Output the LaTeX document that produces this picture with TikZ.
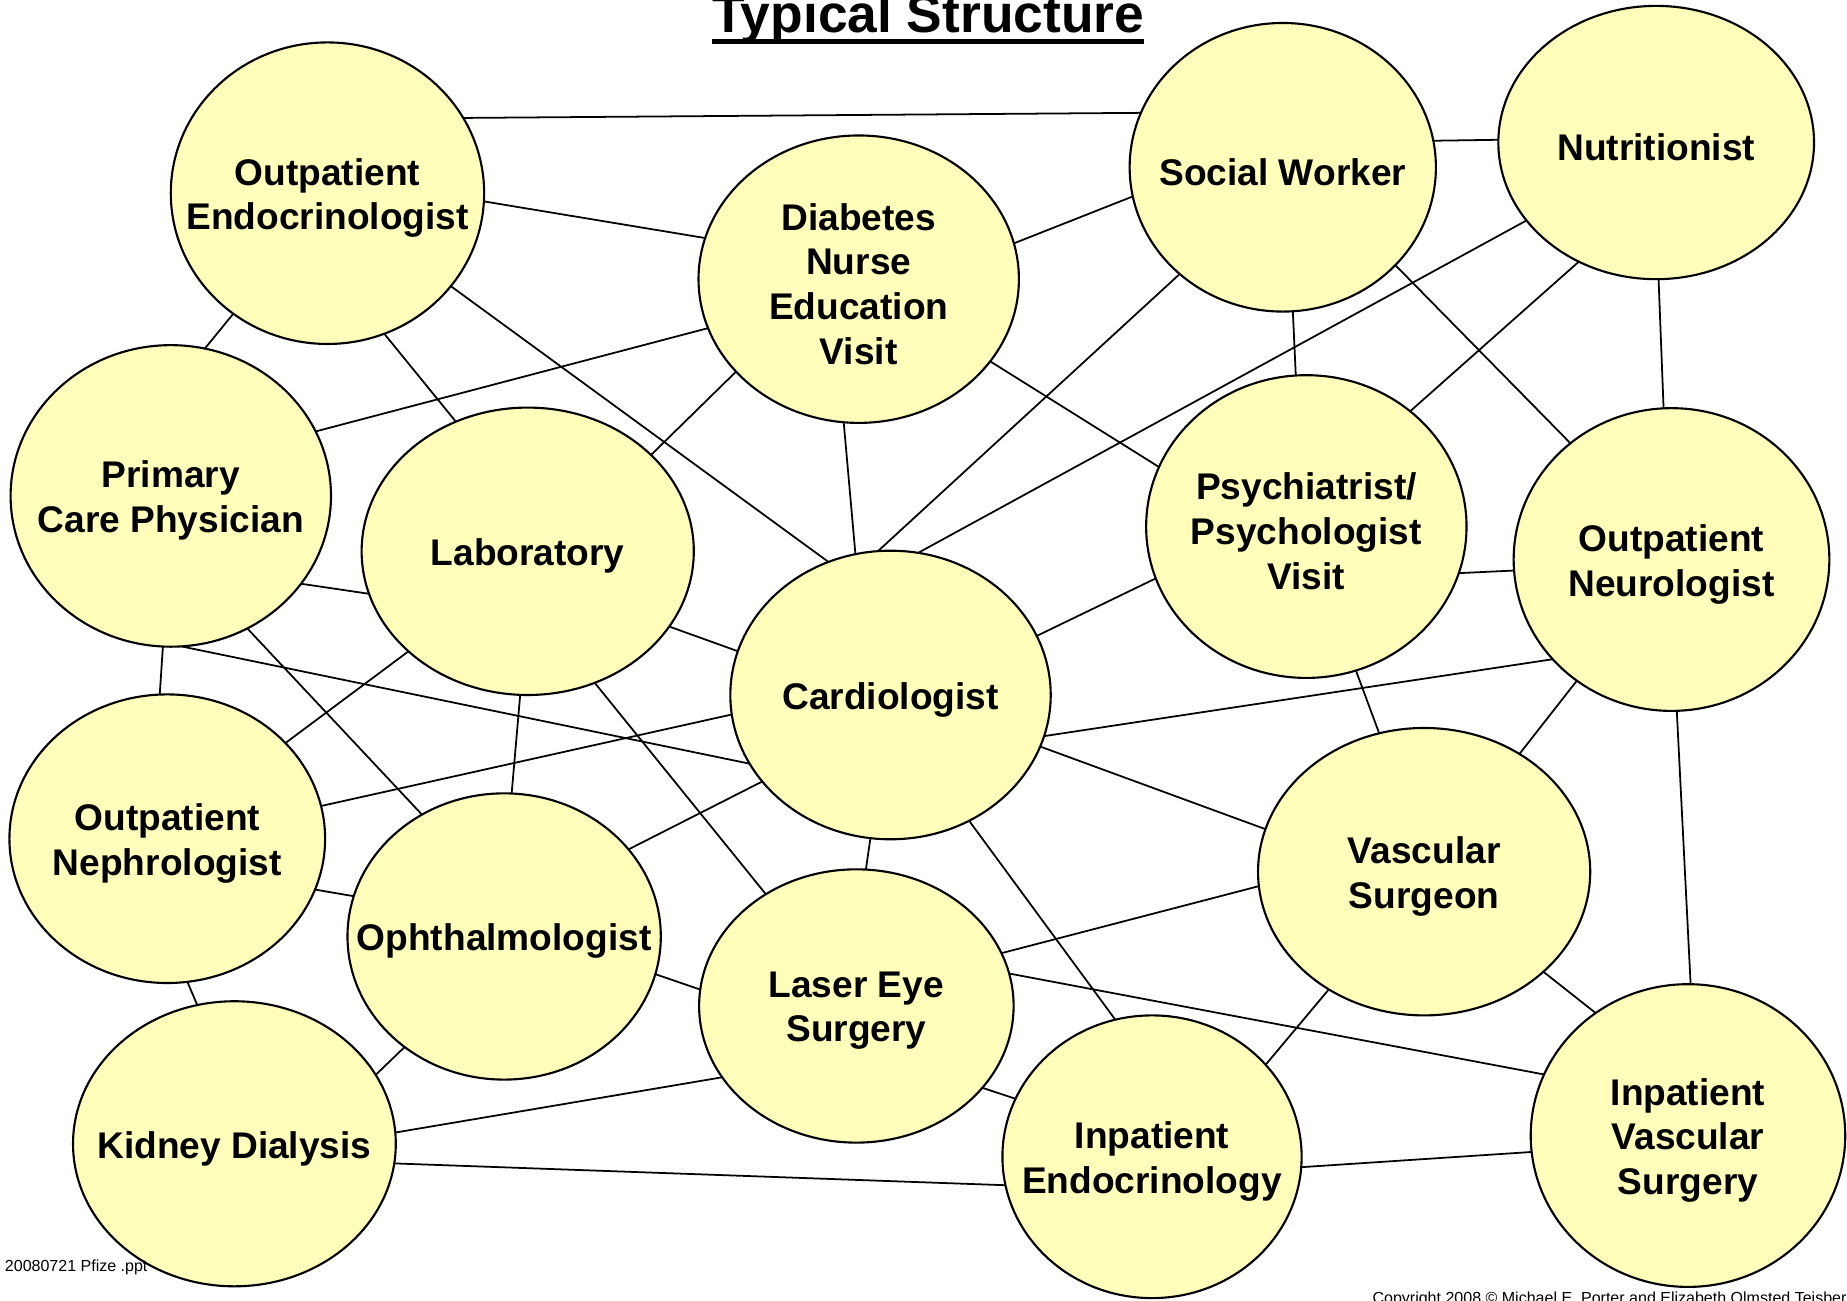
\documentclass[tikz,border=0pt]{standalone}
\usepackage{fontspec}
\setmainfont{Liberation Sans}
\usetikzlibrary{shapes.geometric}
\definecolor{paleyellow}{RGB}{255,255,187}
\tikzstyle{unit} = [ellipse,draw,line width=1.8pt,fill=paleyellow,inner sep=0,outer sep=0]
\tikzstyle{lbl} = [align=center,inner sep=0,yshift=-4pt,font=\fontsize{31.5}{38}\selectfont\bfseries]
\tikzstyle{link} = [draw,line width=1.5pt]

\begin{document}
\begin{tikzpicture}[x=1pt,y=-1pt,small/.style={anchor=base west,inner sep=0,font=\fontsize{13.6}{16}\selectfont}]
    \clip (0,0) rectangle (1568,1104);
    \useasboundingbox (0,0) rectangle (1568,1104);

    \node[anchor=base,inner sep=0,font=\fontsize{45.3}{54}\selectfont\bfseries] (title) at (788,28) {Typical Structure};
    \draw[line width=4.4pt] ([yshift=-7pt]title.base west) -- ([yshift=-7pt]title.base east);

    \node[unit,minimum width=266pt,minimum height=256pt] (endo) at (278,164) {};
    \node[unit,minimum width=272pt,minimum height=244pt] (nurse) at (729,237) {};
    \node[unit,minimum width=260pt,minimum height=245pt] (social) at (1089,142) {};
    \node[unit,minimum width=268pt,minimum height=232pt] (nutri) at (1406,121) {};
    \node[unit,minimum width=272pt,minimum height=256pt] (pcp) at (145,421) {};
    \node[unit,minimum width=282pt,minimum height=244pt] (lab) at (448,468) {};
    \node[unit,minimum width=272pt,minimum height=257pt] (psych) at (1109,447) {};
    \node[unit,minimum width=268pt,minimum height=257pt] (neuro) at (1419,475) {};
    \node[unit,minimum width=272pt,minimum height=245pt] (cardio) at (756,590) {};
    \node[unit,minimum width=268pt,minimum height=245pt] (neph) at (142,712) {};
    \node[unit,minimum width=266pt,minimum height=243pt] (oph) at (428,795) {};
    \node[unit,minimum width=282pt,minimum height=244pt] (vasc) at (1209,740) {};
    \node[unit,minimum width=267pt,minimum height=232pt] (laser) at (727,854) {};
    \node[unit,minimum width=274pt,minimum height=242pt] (dial) at (199,971) {};
    \node[unit,minimum width=254pt,minimum height=240pt] (inendo) at (978,982) {};
    \node[unit,minimum width=267pt,minimum height=257pt] (invasc) at (1433,964) {};

    \node[lbl] (endo-l) at (endo) {Outpatient\\Endocrinologist};
    \node[lbl] (nurse-l) at (nurse) {Diabetes\\Nurse\\Education\\Visit};
    \node[lbl] (social-l) at (social) {Social Worker};
    \node[lbl] (nutri-l) at (nutri) {Nutritionist};
    \node[lbl] (pcp-l) at (pcp) {Primary\\Care Physician};
    \node[lbl] (lab-l) at (lab) {Laboratory};
    \node[lbl] (psych-l) at (psych) {Psychiatrist/\\Psychologist\\Visit};
    \node[lbl] (neuro-l) at (neuro) {Outpatient\\Neurologist};
    \node[lbl] (cardio-l) at (cardio) {Cardiologist};
    \node[lbl] (neph-l) at (neph) {Outpatient\\Nephrologist};
    \node[lbl] (oph-l) at (oph) {Ophthalmologist};
    \node[lbl] (vasc-l) at (vasc) {Vascular\\Surgeon};
    \node[lbl] (laser-l) at (laser) {Laser Eye\\Surgery};
    \node[lbl] (dial-l) at (dial) {Kidney Dialysis};
    \node[lbl] (inendo-l) at (inendo) {Inpatient\\Endocrinology};
    \node[lbl] (invasc-l) at (invasc) {Inpatient\\Vascular\\Surgery};

    % links between the care units
    \draw[link] (endo.29) -- (social.159);
    \draw[link] (endo.-3) -- (nurse.165);
    \draw[link] (endo.232) -- (pcp.77);
    \draw[link] (endo.-68) -- (lab.119);
    \draw[link] (endo.-37) -- (cardio.115);
    \draw[link] (nurse.13) -- (social.191);
    \draw[link] (nurse.198) -- (pcp.24);
    \draw[link] (nurse.217) -- (lab.38);
    \draw[link] (nurse.264) -- (cardio.104);
    \draw[link] (nurse.-32) -- (psych.158);
    \draw[link] (social.10) -- (nutri.179);
    \draw[link] (social.226) -- (cardio.95);
    \draw[link] (social.-86) -- (psych.94);
    \draw[link] (social.-41) -- (neuro.131);
    \draw[link] (nutri.211) -- (cardio.79);
    \draw[link] (nutri.237) -- (psych.48);
    \draw[link] (nutri.-89) -- (neuro.93);
    \draw[link] (pcp.-34) -- (lab.195);
    \draw[link] (pcp.-86) -- (cardio.206);
    \draw[link] (pcp.267) -- (neph.93);
    \draw[link] (pcp.-60) -- (oph.124);
    \draw[link] (lab.-28) -- (cardio.164);
    \draw[link] (lab.220) -- (neph.39);
    \draw[link] (lab.267) -- (oph.87);
    \draw[link] (lab.-63) -- (laser.129);
    \draw[link] (psych.199) -- (cardio.22);
    \draw[link] (psych.-17) -- (neuro.184);
    \draw[link] (psych.-71) -- (vasc.108);
    \draw[link] (neuro.220) -- (cardio.-15);
    \draw[link] (neuro.232) -- (vasc.51);
    \draw[link] (neuro.-88) -- (invasc.89);
    \draw[link] (cardio.187) -- (neph.12);
    \draw[link] (cardio.214) -- (oph.35);
    \draw[link] (cardio.262) -- (laser.86);
    \draw[link] (cardio.-19) -- (vasc.165);
    \draw[link] (cardio.-58) -- (inendo.105);
    \draw[link] (neph.-19) -- (oph.165);
    \draw[link] (neph.-82) -- (dial.105);
    \draw[link] (oph.-14) -- (laser.174);
    \draw[link] (oph.228) -- (dial.26);
    \draw[link] (vasc.185) -- (laser.20);
    \draw[link] (vasc.231) -- (inendo.39);
    \draw[link] (vasc.-40) -- (invasc.127);
    \draw[link] (laser.12) -- (invasc.157);
    \draw[link] (laser.208) -- (dial.4);
    \draw[link] (laser.-33) -- (inendo.157);
    \draw[link] (dial.-7) -- (inendo.191);
    \draw[link] (inendo.-4) -- (invasc.186);

    \node[small] (file) at (4,1079) {20080721 Pfize .ppt};
    \node[small] (copy) at (1165,1107) {Copyright 2008 \textcopyright{} Michael E. Porter and Elizabeth Olmsted Teisberg};
\end{tikzpicture}
\end{document}
